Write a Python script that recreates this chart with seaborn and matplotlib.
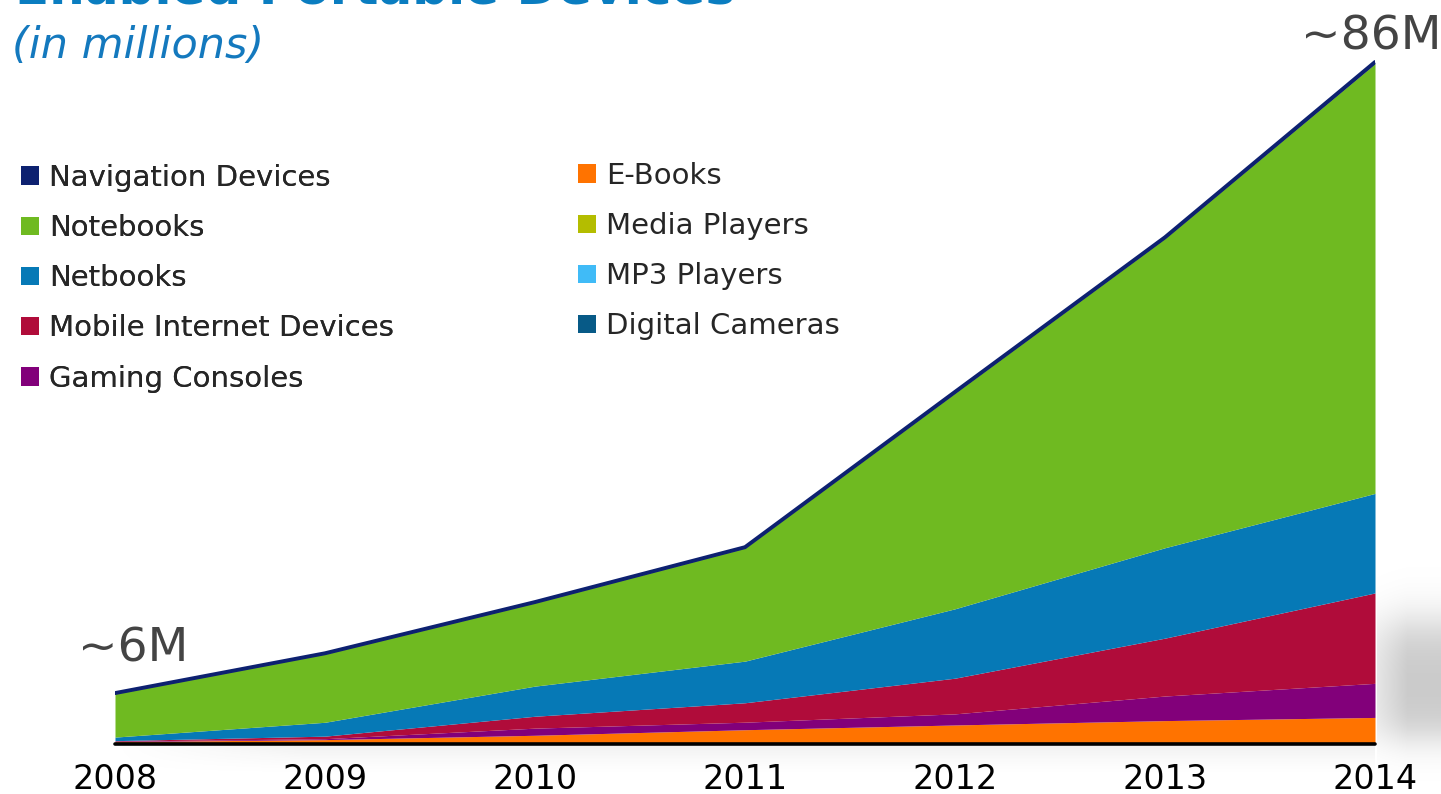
import numpy as np
import pandas as pd
import matplotlib
matplotlib.use("Agg")
import matplotlib.pyplot as plt
from matplotlib.patches import Patch
import seaborn as sns

# Shipments of enabled portable devices, millions of units
years = [2008, 2009, 2010, 2011, 2012, 2013, 2014]
digital_cameras = [0.0, 0.0, 0.0, 0.0, 0.0, 0.0, 0.0]
mp3_players = [0.0, 0.0, 0.0, 0.0, 0.0, 0.0, 0.0]
media_players = [0.0, 0.0, 0.0, 0.0, 0.0, 0.05, 0.15]
e_books = [0.3, 0.55, 1.1, 1.8, 2.4, 2.9, 3.2]
gaming_consoles = [0.06, 0.12, 0.9, 0.95, 1.4, 3.1, 4.3]
mobile_internet = [0.06, 0.32, 1.5, 2.45, 4.5, 7.3, 11.4]
netbooks = [0.45, 1.75, 3.8, 5.25, 8.75, 11.4, 12.55]
notebooks = [5.45, 8.6, 10.5, 14.25, 27.2, 39.0, 54.2]
navigation = [0.1, 0.1, 0.1, 0.12, 0.15, 0.15, 0.2]

start_label = "~6M"
end_label = "~86M"

# stacking order, bottom to top
series = [
    ("Digital Cameras", digital_cameras, "#075a87"),
    ("MP3 Players", mp3_players, "#40bbf7"),
    ("Media Players", media_players, "#b4bd00"),
    ("E-Books", e_books, "#ff7300"),
    ("Gaming Consoles", gaming_consoles, "#82007a"),
    ("Mobile Internet Devices", mobile_internet, "#b00c3a"),
    ("Netbooks", netbooks, "#0679b6"),
    ("Notebooks", notebooks, "#6fba21"),
    ("Navigation Devices", navigation, "#0d2170"),
]

sns.set_theme(style="white")
plt.rcParams["font.family"] = ["DejaVu Sans"]

W, H = 1441, 794
fig = plt.figure(figsize=(W / 100, H / 100), dpi=100)
fig.patch.set_facecolor("white")

# axes: 2008..2014 spans x 115..1375 px, zero line at y=744 px
x0, x1, base_y = 115, 1375, 744
px_per_unit = 7.93
ax = fig.add_axes([x0 / W, (H - base_y) / H, (x1 - x0) / W, base_y / H])
ax.set_facecolor("none")

df = pd.DataFrame({name: vals for name, vals, _ in series}, index=years)
palette = sns.color_palette([c for _, _, c in series])
ax.stackplot(years, *[df[name].values for name, _, _ in series],
             colors=palette, linewidth=0, antialiased=True)

total = pd.DataFrame({"year": years, "total": df.sum(axis=1).values})
sns.lineplot(data=total, x="year", y="total", color="#0d2170", lw=2.8,
             ax=ax, legend=False, solid_joinstyle="miter")
ax.axhline(0, color="black", lw=2.6, zorder=5, clip_on=False)

ax.set_xlim(years[0], years[-1])
ax.set_ylim(0, base_y / px_per_unit)
ax.set_xlabel("")
ax.set_ylabel("")
ax.set_yticks([])
ax.set_xticks(years)
ax.set_xticklabels([str(y) for y in years], fontsize=24, color="black")
ax.tick_params(axis="x", length=0, pad=14)
for s in ax.spines.values():
    s.set_visible(False)


def fx(px):
    return px / W


def fy(py):
    return 1 - py / H


# headings
fig.text(fx(15), fy(3), "Enabled Portable Devices", fontsize=36,
         fontweight="bold", color="#0a7dc0", ha="left", va="baseline")
fig.text(fx(12), fy(58), "(in millions)", fontsize=31, style="italic",
         color="#1479be", ha="left", va="baseline")

# start / end totals
fig.text(fx(78), fy(661), start_label, fontsize=34, color="#444444",
         ha="left", va="baseline")
fig.text(fx(1441), fy(50), end_label, fontsize=34, color="#444444",
         ha="right", va="baseline")

# legends in two columns
colors = {name: c for name, _, c in series}
left_names = ["Navigation Devices", "Notebooks", "Netbooks",
              "Mobile Internet Devices", "Gaming Consoles"]
right_names = ["E-Books", "Media Players", "MP3 Players", "Digital Cameras"]


def make_legend(names, x_px, y_px):
    handles = [Patch(facecolor=colors[n], edgecolor="none", label=n) for n in names]
    leg = fig.legend(handles=handles, loc="upper left",
                     bbox_to_anchor=(fx(x_px), fy(y_px)),
                     bbox_transform=fig.transFigure, frameon=False,
                     fontsize=21, handlelength=0.6, handleheight=0.6,
                     handletextpad=0.36, labelspacing=0.76, borderpad=0,
                     borderaxespad=0)
    return leg


leg1 = make_legend(left_names, 21, 164)
fig.add_artist(leg1)
leg2 = make_legend(right_names, 578, 162)

# soft shadows
hh = 30
band = np.zeros((hh, x1 - x0, 4))
ty = np.linspace(1, 0, hh)[:, None] ** 1.6
tx = np.clip(np.linspace(0, 1, x1 - x0) / 0.15, 0, 1)[None, :]
band[..., :3] = 0.55
band[..., 3] = 0.12 * ty * tx
fig.figimage(band, xo=x0, yo=H - base_y - 2 - hh, origin="upper", zorder=0)

bw, bh = W - 1377, 240
yy = np.arange(bh)[:, None] + 550
xx = np.arange(bw)[None, :] + 1377
vert = 1 / (1 + np.exp(-(yy - 622) / 14)) * 1 / (1 + np.exp((yy - 737) / 11))
horiz = 0.5 + 0.5 * np.clip((xx - 1377) / 30, 0, 1)
blob = np.zeros((bh, bw, 4))
blob[..., 3] = 0.21 * vert * horiz
fig.figimage(blob, xo=1377, yo=H - 550 - bh, origin="upper", zorder=0)

fig.savefig("out.png", dpi=100, facecolor="white")
